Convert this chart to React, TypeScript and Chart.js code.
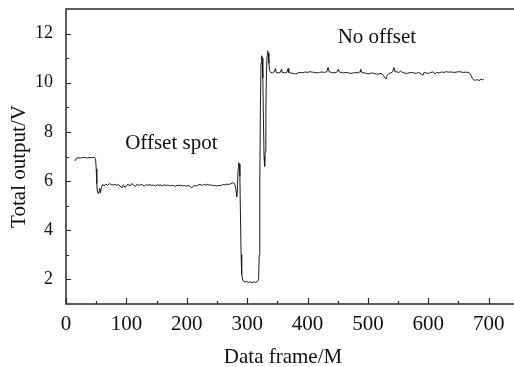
import React, { useEffect, useRef } from "react";
import { Chart, registerables } from "chart.js";

Chart.register(...registerables);

const frames = [
  15, 17, 20, 24, 28, 32, 36, 40, 44, 47, 49, 50, 51, 52, 54, 56, 57, 59, 61, 63,
  66, 69, 72, 75, 78, 81, 84, 87, 90, 93, 95, 98, 100, 103, 106, 109, 112, 115, 118, 121,
  124, 127, 130, 133, 136, 139, 142, 145, 148, 151, 154, 157, 160, 163, 166, 169, 172, 175, 178, 181,
  184, 187, 190, 193, 196, 199, 202, 205, 208, 210, 213, 216, 219, 222, 225, 228, 231, 234, 237, 240,
  243, 246, 249, 252, 255, 258, 261, 264, 267, 270, 273, 276, 279, 281, 283, 284, 285, 286, 287, 288,
  289, 290, 291, 293, 296, 299, 302, 305, 308, 311, 314, 317, 319, 320, 321, 322, 323, 324, 325, 326,
  327, 328, 329, 330, 331, 332, 333, 334, 335, 336, 337, 339, 342, 345, 347, 348, 351, 355, 357, 358,
  362, 366, 368, 369, 372, 376, 380, 384, 388, 392, 396, 400, 404, 408, 412, 416, 420, 424, 428, 432,
  434, 436, 440, 444, 448, 451, 453, 456, 460, 464, 468, 472, 476, 480, 484, 487, 488, 490, 494, 498,
  502, 506, 510, 514, 518, 522, 526, 528, 530, 532, 535, 538, 541, 543, 545, 548, 551, 554, 557, 560,
  564, 568, 572, 576, 580, 584, 588, 591, 593, 596, 600, 604, 608, 611, 614, 618, 622, 626, 630, 634,
  638, 642, 646, 650, 654, 658, 662, 666, 669, 671, 673, 675, 678, 681, 684, 687, 690, 692,
];

const volts = [
  6.82, 6.93, 6.95, 6.94, 6.96, 6.95, 6.94, 6.96, 6.95, 6.97, 6.9, 6.5, 5.9, 5.55, 5.48, 5.7, 5.52, 5.78, 5.86, 5.8,
  5.88, 5.83, 5.9, 5.85, 5.84, 5.87, 5.83, 5.85, 5.8, 5.72, 5.85, 5.74, 5.82, 5.88, 5.8, 5.9, 5.84, 5.78, 5.88, 5.82,
  5.86, 5.84, 5.8, 5.85, 5.83, 5.86, 5.82, 5.84, 5.8, 5.85, 5.83, 5.84, 5.81, 5.85, 5.82, 5.84, 5.8, 5.83, 5.82, 5.79,
  5.83, 5.81, 5.84, 5.8, 5.82, 5.79, 5.82, 5.8, 5.72, 5.78, 5.82, 5.8, 5.84, 5.87, 5.82, 5.86, 5.84, 5.87, 5.83, 5.85,
  5.81, 5.83, 5.8, 5.82, 5.81, 5.84, 5.86, 5.84, 5.88, 5.86, 5.9, 5.93, 5.9, 5.75, 5.35, 5.7, 6.5, 6.75, 6.7, 6.2,
  4.5, 3.0, 2.2, 1.95, 1.9, 1.92, 1.88, 1.9, 1.87, 1.9, 1.88, 1.92, 2.0, 3.0, 6.0, 9.0, 10.8, 11.1, 11.0, 10.2,
  8.5, 7.0, 6.6, 7.2, 8.8, 10.4, 11.1, 11.3, 11.2, 10.8, 10.5, 10.42, 10.4, 10.45, 10.58, 10.42, 10.4, 10.42, 10.56, 10.42,
  10.4, 10.43, 10.58, 10.42, 10.4, 10.38, 10.36, 10.4, 10.42, 10.41, 10.44, 10.42, 10.45, 10.43, 10.42, 10.4, 10.42, 10.44, 10.42, 10.45,
  10.62, 10.44, 10.42, 10.4, 10.42, 10.55, 10.43, 10.42, 10.4, 10.42, 10.4, 10.38, 10.4, 10.42, 10.4, 10.45, 10.55, 10.42, 10.4, 10.38,
  10.36, 10.4, 10.38, 10.35, 10.36, 10.38, 10.3, 10.2, 10.15, 10.3, 10.38, 10.4, 10.45, 10.62, 10.44, 10.45, 10.4, 10.48, 10.42, 10.4,
  10.38, 10.4, 10.42, 10.4, 10.38, 10.42, 10.36, 10.3, 10.42, 10.4, 10.38, 10.42, 10.44, 10.36, 10.42, 10.4, 10.44, 10.42, 10.45, 10.43,
  10.44, 10.42, 10.43, 10.45, 10.44, 10.42, 10.43, 10.42, 10.38, 10.3, 10.18, 10.12, 10.1, 10.13, 10.09, 10.14, 10.12, 10.15,
];

const xTickValues = [0, 100, 200, 300, 400, 500, 600, 700];
const xMinorTicks = [50, 150, 250, 350, 450, 550, 650];
const yTickValues = [2, 4, 6, 8, 10, 12];
const yMinorTicks = [3, 5, 7, 9, 11];
const xRange = [0, 742];
const yRange = [1, 13];
const xTitle = "Data frame/M";
const yTitle = "Total output/V";
const noteTexts = ["Offset spot", "No offset"];
const noteX = [98, 450];
const noteY = [7.32, 11.63];

const FONT = '"Liberation Serif", "Times New Roman", serif';

const framePlugin = {
  id: "frameAndNotes",
  afterDraw(chart: any) {
    const { ctx, chartArea, scales } = chart;
    const { left, top, right, bottom } = chartArea;
    const x = scales.x;
    const y = scales.y;
    ctx.save();
    ctx.strokeStyle = "#2a2a2a";
    ctx.lineWidth = 1.5;
    ctx.beginPath();
    ctx.moveTo(right + 2, top);
    ctx.lineTo(left, top);
    ctx.lineTo(left, bottom);
    ctx.lineTo(right + 2, bottom);
    ctx.stroke();

    ctx.lineWidth = 1.2;
    ctx.beginPath();
    xTickValues.forEach((v) => {
      const px = Math.round(x.getPixelForValue(v)) + 0.5;
      ctx.moveTo(px, bottom);
      ctx.lineTo(px, bottom - 6);
    });
    xMinorTicks.forEach((v) => {
      const px = Math.round(x.getPixelForValue(v)) + 0.5;
      ctx.moveTo(px, bottom);
      ctx.lineTo(px, bottom - 3);
    });
    yTickValues.forEach((v) => {
      const py = Math.round(y.getPixelForValue(v)) + 0.5;
      ctx.moveTo(left, py);
      ctx.lineTo(left + 5, py);
    });
    yMinorTicks.forEach((v) => {
      const py = Math.round(y.getPixelForValue(v)) + 0.5;
      ctx.moveTo(left, py);
      ctx.lineTo(left + 3, py);
    });
    ctx.stroke();

    ctx.fillStyle = "#111";
    ctx.font = `21px ${FONT}`;
    ctx.textAlign = "left";
    ctx.textBaseline = "alphabetic";
    noteTexts.forEach((t, i) => {
      ctx.fillText(t, x.getPixelForValue(noteX[i]), y.getPixelForValue(noteY[i]));
    });

    ctx.textAlign = "center";
    ctx.fillText(xTitle, (left + right) / 2 - 7, 362.5);

    ctx.save();
    ctx.translate(25, (top + bottom) / 2 + 10);
    ctx.rotate(-Math.PI / 2);
    ctx.fillText(yTitle, 0, 0);
    ctx.restore();
    ctx.restore();
  },
};

export default function App() {
  const ref = useRef<HTMLCanvasElement | null>(null);

  useEffect(() => {
    if (!ref.current) return;
    const points = frames.map((f, i) => ({ x: f, y: volts[i] }));
    const chart = new Chart(ref.current, {
      type: "line",
      data: {
        datasets: [
          {
            data: points,
            borderColor: "#1c1c1c",
            borderWidth: 1,
            pointRadius: 0,
            tension: 0,
            fill: false,
          },
        ],
      },
      options: {
        animation: false,
        responsive: false,
        maintainAspectRatio: false,
        layout: { padding: { top: 9, right: 0, left: 0, bottom: 0 } },
        plugins: {
          legend: { display: false },
          tooltip: { enabled: false },
        },
        scales: {
          x: {
            type: "linear",
            min: xRange[0],
            max: xRange[1],
            grid: { display: false, drawTicks: false },
            border: { display: false },
            afterBuildTicks: (s: any) => {
              s.ticks = xTickValues.map((v) => ({ value: v }));
            },
            afterFit: (s: any) => {
              s.height = 63;
              s.paddingLeft = 0;
              s.paddingRight = 0;
            },
            ticks: {
              color: "#111",
              font: { family: FONT, size: 21 },
              padding: 8,
              maxRotation: 0,
              autoSkip: false,
            },
          },
          y: {
            type: "linear",
            min: yRange[0],
            max: yRange[1],
            grid: { display: false, drawTicks: false },
            border: { display: false },
            afterBuildTicks: (s: any) => {
              s.ticks = yTickValues.map((v) => ({ value: v }));
            },
            afterFit: (s: any) => {
              s.width = 66;
              s.paddingTop = 0;
              s.paddingBottom = 0;
            },
            ticks: {
              color: "#111",
              font: { family: FONT, size: 18 },
              padding: 13,
              autoSkip: false,
            },
          },
        },
      },
      plugins: [framePlugin],
    });
    return () => chart.destroy();
  }, []);

  return (
    <div
      style={{
        position: "fixed",
        left: 0,
        top: 0,
        width: 514,
        height: 367,
        overflow: "hidden",
        background: "#fff",
      }}
    >
      <canvas ref={ref} width={514} height={367} style={{ display: "block", width: 514, height: 367 }} />
    </div>
  );
}
